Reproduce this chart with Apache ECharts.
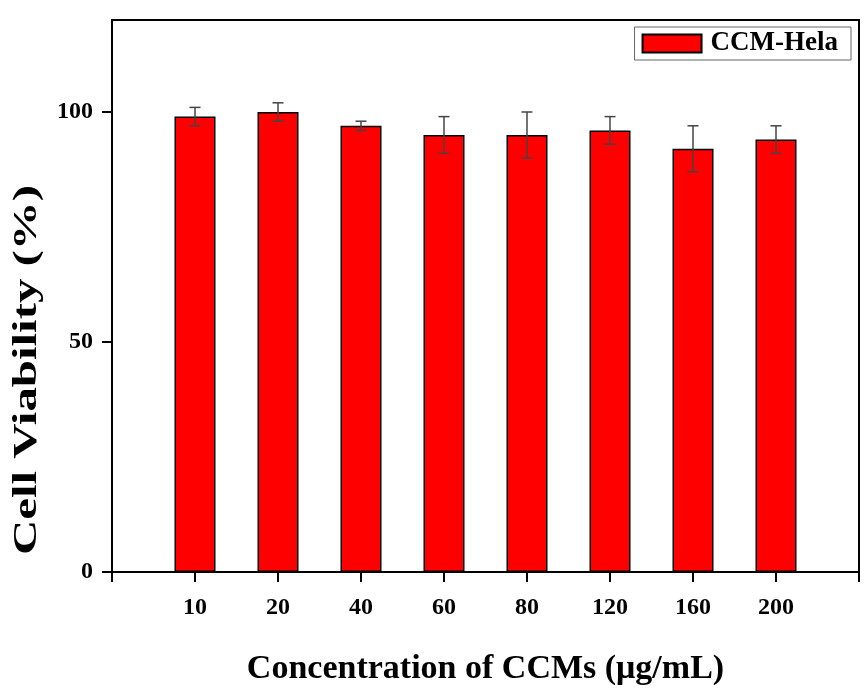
<!DOCTYPE html>
<html>
<head>
<meta charset="utf-8">
<script src="https://cdn.jsdelivr.net/npm/echarts@6/dist/echarts.min.js"></script>
<style>html,body{margin:0;padding:0;background:#fff}#c{width:864px;height:693px}</style>
</head>
<body>
<div id="c"></div>
<script>
const categories = ['10', '20', '40', '60', '80', '120', '160', '200'];
const viability = [99, 100, 97, 95, 95, 96, 92, 94];
const errors = [2, 2, 1, 4, 5, 3, 5, 3];
const yTicks = [0, 50, 100];
const seriesName = 'CCM-Hela';
const xTitle = 'Concentration of CCMs (\u03bcg/mL)';
const yTitle = 'Cell Viability (%)';

const font = 'Liberation Serif, Times New Roman, serif';
const barData = viability.map((v, i) => [i + 1, v]);
const errData = viability.map((v, i) => [i + 1, v, errors[i]]);
const xTickVals = [0].concat(categories.map((c, i) => i + 1)).concat([categories.length + 1]);

const chart = echarts.init(document.getElementById('c'));
chart.setOption({
  backgroundColor: '#ffffff',
  animation: false,
  grid: { left: 112, right: 5, top: 20, bottom: 121, show: true, borderColor: '#000', borderWidth: 2, backgroundColor: 'transparent' },
  legend: {
    right: 13, top: 27,
    data: [seriesName],
    itemWidth: 59, itemHeight: 18, itemGap: 0,
    padding: [3, 13, 3, 7],
    borderColor: '#666', borderWidth: 1,
    textStyle: { fontFamily: font, fontWeight: 'bold', fontSize: 27, color: '#000', padding: [0, 0, 0, 4] },
    icon: 'rect'
  },
  graphic: [
    {
      type: 'text',
      x: 27, y: 370,
      rotation: Math.PI / 2,
      scaleX: 1.48,
      style: {
        text: yTitle,
        fontFamily: font, fontWeight: 'bold', fontSize: 33, fill: '#000',
        textAlign: 'center', textVerticalAlign: 'middle'
      }
    }
  ],
  xAxis: {
    type: 'value', min: 0, max: categories.length + 1, interval: 1,
    name: xTitle,
    nameLocation: 'middle', nameGap: 80,
    nameTextStyle: { fontFamily: font, fontWeight: 'bold', fontSize: 34, color: '#000' },
    axisLine: { lineStyle: { color: '#000', width: 2 } },
    axisTick: { inside: false, length: 10, lineStyle: { color: '#000', width: 2 }, customValues: xTickVals },
    axisLabel: {
      margin: 24, fontFamily: font, fontWeight: 'bold', fontSize: 24, color: '#000',
      customValues: categories.map((c, i) => i + 1),
      formatter: v => (v >= 1 && v <= categories.length) ? categories[v - 1] : ''
    },
    splitLine: { show: false }
  },
  yAxis: {
    type: 'value', min: 0, max: 120, interval: 50,
    axisLine: { show: true, lineStyle: { color: '#000', width: 2 } },
    axisTick: { show: true, length: 10, lineStyle: { color: '#000', width: 2 }, customValues: yTicks },
    axisLabel: {
      margin: 19, fontFamily: font, fontWeight: 'bold', fontSize: 24, color: '#000',
      customValues: yTicks,
      formatter: v => String(v)
    },
    splitLine: { show: false }
  },
  series: [
    {
      name: seriesName,
      type: 'bar',
      barWidth: 41,
      data: barData,
      itemStyle: { color: '#ff0000', borderColor: '#000', borderWidth: 1.5 }
    },
    {
      name: 'err',
      type: 'custom',
      data: errData,
      z: 5,
      renderItem: function (params, api) {
        const x = api.value(0), m = api.value(1), e = api.value(2);
        const hi = api.coord([x, m + e]);
        const lo = api.coord([x, m - e]);
        const hw = 5.5;
        const style = { stroke: '#444', lineWidth: 1.5, fill: null };
        return {
          type: 'group',
          children: [
            { type: 'line', shape: { x1: hi[0], y1: hi[1], x2: lo[0], y2: lo[1] }, style },
            { type: 'line', shape: { x1: hi[0] - hw, y1: hi[1], x2: hi[0] + hw, y2: hi[1] }, style },
            { type: 'line', shape: { x1: lo[0] - hw, y1: lo[1], x2: lo[0] + hw, y2: lo[1] }, style }
          ]
        };
      }
    }
  ]
});
</script>
</body>
</html>
